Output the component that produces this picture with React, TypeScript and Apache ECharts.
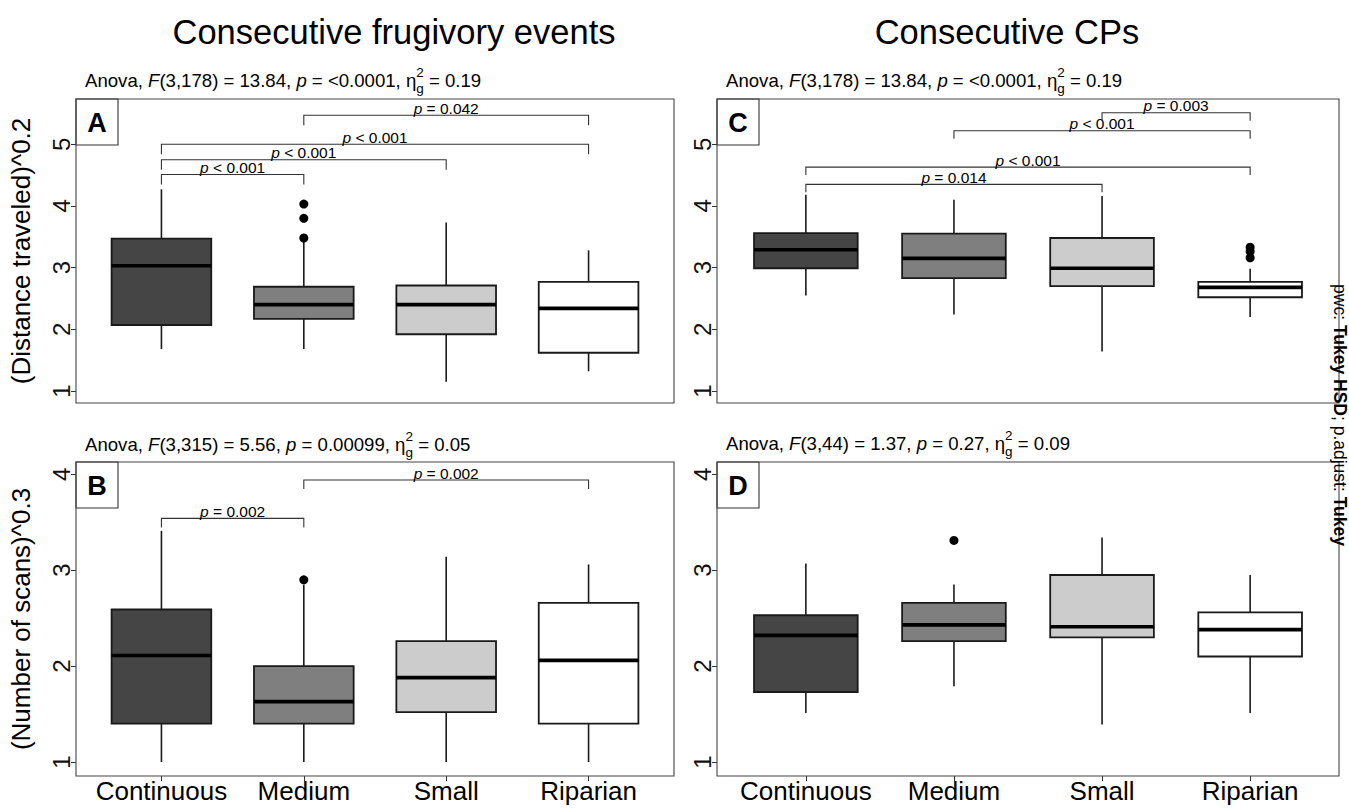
import React, { useEffect, useRef } from 'react';
import * as echarts from 'echarts';

const FONT = '"Liberation Sans", Arial, Helvetica, sans-serif';

// ---------- data ----------
const categories = ['Continuous', 'Medium', 'Small', 'Riparian'];
const boxFills = ['#454545', '#7f7f7f', '#cccccc', '#ffffff'];

// each box: [min, Q1, median, Q3, max]
const frugDistanceBoxes = [
  [1.68, 2.07, 3.03, 3.47, 4.27],
  [1.68, 2.17, 2.40, 2.69, 3.45],
  [1.15, 1.92, 2.40, 2.71, 3.73],
  [1.32, 1.62, 2.34, 2.77, 3.28],
];
const frugDistanceOutliers = [[1, 3.48], [1, 3.80], [1, 4.03]];
// [fromCategory, y, toCategory]
const frugDistanceBrackets = [[0, 4.51, 1], [0, 4.75, 2], [0, 5.0, 3], [1, 5.47, 3]];
const frugDistancePLabels = ['< 0.001', '< 0.001', '< 0.001', '= 0.042'];

const frugScansBoxes = [
  [1.0, 1.40, 2.11, 2.59, 3.41],
  [1.0, 1.40, 1.63, 2.00, 2.85],
  [1.0, 1.52, 1.88, 2.26, 3.14],
  [1.0, 1.40, 2.06, 2.66, 3.06],
];
const frugScansOutliers = [[1, 2.90]];
const frugScansBrackets = [[0, 3.54, 1], [1, 3.94, 3]];
const frugScansPLabels = ['= 0.002', '= 0.002'];

const cpDistanceBoxes = [
  [2.55, 2.99, 3.29, 3.56, 4.18],
  [2.24, 2.83, 3.15, 3.55, 4.10],
  [1.64, 2.70, 2.99, 3.48, 4.16],
  [2.20, 2.52, 2.68, 2.77, 2.98],
];
const cpDistanceOutliers = [[3, 3.16], [3, 3.26], [3, 3.33]];
const cpDistanceBrackets = [[0, 4.35, 2], [0, 4.63, 3], [1, 5.22, 3], [2, 5.51, 3]];
const cpDistancePLabels = ['= 0.014', '< 0.001', '< 0.001', '= 0.003'];

const cpScansBoxes = [
  [1.51, 1.73, 2.32, 2.53, 3.07],
  [1.79, 2.26, 2.43, 2.66, 2.85],
  [1.39, 2.30, 2.41, 2.95, 3.34],
  [1.51, 2.10, 2.38, 2.56, 2.95],
];
const cpScansOutliers = [[1, 3.31]];
const cpScansBrackets: number[][] = [];
const cpScansPLabels: string[] = [];

const distanceRange = [0.805, 5.734];
const scansRange = [0.854, 4.128];
const distanceTicks = [1, 2, 3, 4, 5];
const scansTicks = [1, 2, 3, 4];

// anova: [F part, p value, eta]
const anovaA = ['(3,178) = 13.84', '<0.0001', '0.19'];
const anovaB = ['(3,315) = 5.56', '0.00099', '0.05'];
const anovaC = ['(3,178) = 13.84', '<0.0001', '0.19'];
const anovaD = ['(3,44) = 1.37', '0.27', '0.09'];

const columnTitles = ['Consecutive frugivory events', 'Consecutive CPs'];
const rowNames = ['(Distance traveled)^0.2', '(Number of scans)^0.3'];

// ---------- layout ----------
const panels = [
  { id: 'A', rect: [76, 99, 674, 403], boxes: frugDistanceBoxes, outliers: frugDistanceOutliers, brackets: frugDistanceBrackets, labels: frugDistancePLabels, range: distanceRange, ticks: distanceTicks, yName: rowNames[0], showX: false, tip: 10, anova: anovaA, anovaPos: [85, 80] },
  { id: 'B', rect: [76, 462, 674, 776], boxes: frugScansBoxes, outliers: frugScansOutliers, brackets: frugScansBrackets, labels: frugScansPLabels, range: scansRange, ticks: scansTicks, yName: rowNames[1], showX: true, tip: 9, anova: anovaB, anovaPos: [85, 444] },
  { id: 'C', rect: [717, 99, 1339, 403], boxes: cpDistanceBoxes, outliers: cpDistanceOutliers, brackets: cpDistanceBrackets, labels: cpDistancePLabels, range: distanceRange, ticks: distanceTicks, yName: '', showX: false, tip: 8, anova: anovaC, anovaPos: [726, 80] },
  { id: 'D', rect: [717, 462, 1339, 776], boxes: cpScansBoxes, outliers: cpScansOutliers, brackets: cpScansBrackets, labels: cpScansPLabels, range: scansRange, ticks: scansTicks, yName: '', showX: true, tip: 8, anova: anovaD, anovaPos: [726, 443] },
];

const BOX_FRAC = 0.7;
const LINE = '#1a1a1a';

function anovaText(a: string[]) {
  return `{n|Anova, }{i|F}{n|${a[0]}, }{i|p}{n| = ${a[1]}, η}{sup|2}{sub|g}{n| = ${a[2]}}`;
}

function buildOption() {
  const grid: any[] = [];
  const xAxis: any[] = [];
  const yAxis: any[] = [];
  const series: any[] = [];
  const graphic: any[] = [];

  panels.forEach((p, i) => {
    const [l, t, r, b] = p.rect;
    const step = (r - l) / 4.2;
    const inset = 0.1 * step;
    grid.push({ left: l + inset, top: t, width: 4 * step, height: b - t, containLabel: false });
    xAxis.push({
      gridIndex: i,
      type: 'category',
      data: categories,
      boundaryGap: true,
      axisLine: { show: false },
      axisTick: { show: p.showX, alignWithLabel: true, interval: 0, length: 5, lineStyle: { color: '#333' } },
      axisLabel: { show: p.showX, interval: 0, hideOverlap: false, fontSize: 26, color: '#000', margin: 2, fontFamily: FONT },
      splitLine: { show: false },
    });
    yAxis.push({
      gridIndex: i,
      type: 'value',
      min: p.range[0],
      max: p.range[1],
      offset: inset,
      axisLine: { show: false },
      axisTick: { show: true, length: 5, customValues: p.ticks, lineStyle: { color: '#333' } },
      axisLabel: { customValues: p.ticks, rotate: 90, fontSize: 24, color: '#111', margin: 3, fontFamily: FONT },
      splitLine: { show: false },
      name: p.yName,
      nameLocation: 'middle',
      nameRotate: 90,
      nameGap: 42,
      nameTextStyle: { fontSize: 26, color: '#000', fontFamily: FONT },
    });

    series.push({
      type: 'custom',
      xAxisIndex: i,
      yAxisIndex: i,
      data: p.boxes.map((bx, k) => [k, ...bx]),
      encode: { x: 0, y: [1, 2, 3, 4, 5] },
      renderItem: (params: any, api: any) => {
        const k = api.value(0);
        const band = api.size([1, 0])[0];
        const half = (band * BOX_FRAC) / 2;
        const pMin = api.coord([k, api.value(1)]);
        const pQ1 = api.coord([k, api.value(2)]);
        const pMed = api.coord([k, api.value(3)]);
        const pQ3 = api.coord([k, api.value(4)]);
        const pMax = api.coord([k, api.value(5)]);
        const cx = pMed[0];
        return {
          type: 'group',
          children: [
            { type: 'line', shape: { x1: cx, y1: pMin[1], x2: cx, y2: pQ1[1] }, style: { stroke: LINE, lineWidth: 1.6 } },
            { type: 'line', shape: { x1: cx, y1: pQ3[1], x2: cx, y2: pMax[1] }, style: { stroke: LINE, lineWidth: 1.6 } },
            { type: 'rect', shape: { x: cx - half, y: pQ3[1], width: 2 * half, height: pQ1[1] - pQ3[1] }, style: { fill: boxFills[k], stroke: LINE, lineWidth: 1.8 } },
            { type: 'line', shape: { x1: cx - half, y1: pMed[1], x2: cx + half, y2: pMed[1] }, style: { stroke: '#000', lineWidth: 3.6 } },
          ],
        };
      },
    });

    series.push({
      type: 'scatter',
      xAxisIndex: i,
      yAxisIndex: i,
      data: p.outliers,
      symbolSize: 9,
      itemStyle: { color: '#000', opacity: 1 },
    });

    if (p.brackets.length) {
      series.push({
        type: 'custom',
        xAxisIndex: i,
        yAxisIndex: i,
        data: p.brackets,
        encode: { x: 0, y: 1 },
        renderItem: (params: any, api: any) => {
          const from = api.value(0);
          const y = api.value(1);
          const to = api.value(2);
          const a = api.coord([from, y]);
          const c = api.coord([to, y]);
          return {
            type: 'group',
            children: [
              {
                type: 'polyline',
                shape: { points: [[a[0], a[1] + p.tip], [a[0], a[1]], [c[0], c[1]], [c[0], c[1] + p.tip]] },
                style: { stroke: '#333', lineWidth: 1.1, fill: 'none' },
              },
              {
                type: 'text',
                x: (a[0] + c[0]) / 2,
                y: a[1] + 1,
                style: {
                  text: `{i|p}{n| ${p.labels[params.dataIndex]}}`,
                  align: 'center',
                  verticalAlign: 'bottom',
                  rich: {
                    i: { fontSize: 15.5, fontStyle: 'italic', fontFamily: FONT, fill: '#000' },
                    n: { fontSize: 15.5, fontFamily: FONT, fill: '#000' },
                  },
                },
              },
            ],
          };
        },
      });
    }

    // panel border
    graphic.push({
      type: 'rect',
      z: 10,
      shape: { x: l, y: t, width: r - l, height: b - t },
      style: { fill: 'none', stroke: '#444', lineWidth: 1.1 },
    });
    // panel letter
    graphic.push({
      type: 'group',
      z: 11,
      children: [
        { type: 'rect', shape: { x: l, y: t, width: 42, height: 46 }, style: { fill: '#fff', stroke: '#333', lineWidth: 1.1 } },
        { type: 'text', x: l + 21, y: t + 24, style: { text: p.id, fontSize: 27, fontWeight: 'bold', fontFamily: FONT, fill: '#000', align: 'center', verticalAlign: 'middle' } },
      ],
    });
    // anova subtitle
    graphic.push({
      type: 'text',
      x: p.anovaPos[0],
      y: p.anovaPos[1],
      style: {
        text: anovaText(p.anova),
        align: 'left',
        verticalAlign: 'middle',
        rich: {
          n: { fontSize: 18.6, fontFamily: FONT, fill: '#000', lineHeight: 30, verticalAlign: 'middle', align: 'left' },
          i: { fontSize: 18.6, fontStyle: 'italic', fontFamily: FONT, fill: '#000', lineHeight: 30, verticalAlign: 'middle', align: 'left' },
          sup: { fontSize: 13.5, fontFamily: FONT, fill: '#000', width: 0.01, verticalAlign: 'top', align: 'left' },
          sub: { fontSize: 13.5, fontFamily: FONT, fill: '#000', verticalAlign: 'bottom', align: 'left' },
        },
      },
    });
  });

  // column titles
  graphic.push({
    type: 'text', x: 394, y: 32,
    style: { text: columnTitles[0], fontSize: 34.5, fontFamily: FONT, fill: '#000', align: 'center', verticalAlign: 'middle' },
  });
  graphic.push({
    type: 'text', x: 1007, y: 32,
    style: { text: columnTitles[1], fontSize: 34.5, fontFamily: FONT, fill: '#000', align: 'center', verticalAlign: 'middle' },
  });
  // right vertical caption
  graphic.push({
    type: 'text', x: 1340, y: 415, rotation: -Math.PI / 2, z: 12,
    style: {
      text: '{n|pwc: }{b|Tukey HSD}{n|; p.adjust: }{b|Tukey}',
      align: 'center',
      verticalAlign: 'middle',
      rich: {
        n: { fontSize: 17.5, fontFamily: FONT, fill: '#000' },
        b: { fontSize: 17.5, fontFamily: FONT, fontWeight: 'bold', fill: '#000' },
      },
    },
  });

  return {
    animation: false,
    backgroundColor: '#ffffff',
    grid,
    xAxis,
    yAxis,
    series,
    graphic,
  };
}

export default function App() {
  const ref = useRef<HTMLDivElement>(null);
  useEffect(() => {
    document.body.style.margin = '0';
    document.body.style.overflow = 'hidden';
    const chart = echarts.init(ref.current as HTMLDivElement, null, { renderer: 'svg' });
    chart.setOption(buildOption() as any);
    return () => chart.dispose();
  }, []);
  return <div ref={ref} style={{ width: 1349, height: 809 }} />;
}
